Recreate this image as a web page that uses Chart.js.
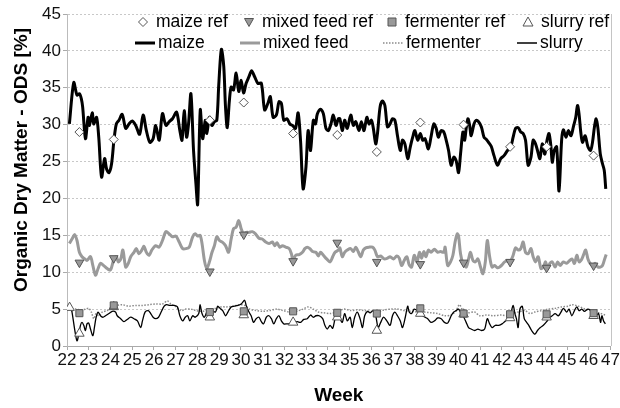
<!DOCTYPE html>
<html>
<head>
  <title>Organic Dry Matter by Week</title>
  <script src="https://cdn.jsdelivr.net/npm/chart.js"></script>
  <style>
    html, body {
      margin: 0;
      padding: 0;
      background: #fff;
    }
    #wrap {
      position: relative;
      width: 620px;
      height: 408px;
    }
  </style>
</head>
<body>
  <div id="wrap">
    <canvas id="odsChart" width="620" height="408"></canvas>
  </div>

  <script>
    // week ticks
    const weekMin = 22;
    const weekMax = 47;

    // maize (measured)
    const maizeWeeks = [22.11, 22.31, 22.46, 22.57, 22.66, 22.72, 22.85, 22.97, 23.03, 23.16, 23.23, 23.36, 23.46, 23.59, 23.73, 23.82, 23.93, 24.05, 24.16, 24.27,
      24.39, 24.54, 24.70, 24.85, 25.00, 25.16, 25.34, 25.50, 25.65, 25.81, 25.96, 26.08, 26.24, 26.39, 26.55, 26.70, 26.85, 27.04, 27.19, 27.29,
      27.39, 27.50, 27.59, 27.70, 27.82, 27.93, 28.01, 28.13, 28.24, 28.36, 28.43, 28.55, 28.66, 28.78, 28.89, 28.98, 29.10, 29.21, 29.29, 29.37,
      29.47, 29.55, 29.66, 29.78, 29.90, 30.01, 30.12, 30.24, 30.37, 30.49, 30.63, 30.78, 30.94, 31.09, 31.24, 31.35, 31.48, 31.63, 31.75, 31.86,
      31.97, 32.12, 32.25, 32.37, 32.51, 32.63, 32.74, 32.86, 32.99, 33.09, 33.20, 33.33, 33.43, 33.51, 33.66, 33.79, 33.91, 34.02, 34.14, 34.25,
      34.37, 34.48, 34.55, 34.66, 34.77, 34.89, 35.05, 35.17, 35.28, 35.43, 35.54, 35.66, 35.79, 35.89, 36.00, 36.09, 36.20, 36.28, 36.40, 36.51,
      36.62, 36.74, 36.86, 36.97, 37.08, 37.20, 37.33, 37.43, 37.54, 37.67, 37.79, 37.90, 38.00, 38.13, 38.25, 38.36, 38.47, 38.62, 38.74, 38.87,
      38.98, 39.08, 39.21, 39.33, 39.44, 39.55, 39.67, 39.79, 39.90, 40.01, 40.10, 40.21, 40.29, 40.36, 40.44, 40.52, 40.59, 40.72, 40.82, 40.93,
      41.06, 41.18, 41.29, 41.39, 41.52, 41.64, 41.80, 41.95, 42.10, 42.26, 42.41, 42.52, 42.63, 42.75, 42.87, 42.98, 43.09, 43.21, 43.34, 43.44,
      43.55, 43.64, 43.75, 43.86, 43.98, 44.08, 44.17, 44.26, 44.32, 44.41, 44.52, 44.63, 44.75, 44.83, 44.95, 45.06, 45.18, 45.29, 45.40, 45.48,
      45.55, 45.63, 45.71, 45.83, 45.96, 46.08, 46.17, 46.26, 46.34, 46.42, 46.53, 46.63, 46.71, 46.78];
    const maize = [30.1, 35.7, 34.0, 34.2, 33.5, 32.4, 28.1, 31.0, 29.9, 31.6, 30.1, 31.0, 28.3, 22.9, 25.4, 24.0, 23.5, 24.7, 27.9, 30.1,
      30.6, 31.4, 29.5, 30.1, 30.5, 29.9, 28.7, 31.3, 29.2, 27.6, 28.1, 29.9, 27.9, 31.5, 29.9, 30.4, 30.8, 31.7, 29.2, 27.9,
      31.9, 28.3, 30.1, 34.2, 26.5, 22.0, 19.2, 32.0, 28.1, 30.6, 28.8, 31.0, 29.9, 30.4, 30.6, 35.4, 40.2, 37.9, 32.4, 29.6,
      33.3, 35.1, 34.7, 37.0, 34.5, 36.0, 34.3, 35.6, 36.5, 37.3, 36.5, 35.6, 35.6, 32.0, 32.9, 33.8, 31.0, 31.3, 33.1, 32.9,
      30.6, 30.8, 30.1, 29.9, 29.5, 31.6, 27.9, 21.3, 24.2, 29.2, 26.5, 30.6, 30.1, 31.4, 32.1, 31.5, 29.5, 29.2, 30.1, 31.3,
      29.9, 30.8, 30.8, 29.2, 30.6, 29.5, 31.3, 29.9, 30.4, 29.2, 30.4, 29.2, 31.0, 30.1, 30.6, 29.5, 27.4, 28.8, 32.4, 33.2,
      32.6, 29.7, 30.1, 30.8, 30.6, 28.5, 26.5, 27.9, 27.4, 25.4, 27.0, 28.3, 29.2, 27.9, 28.8, 27.9, 28.1, 26.7, 28.3, 30.1,
      29.5, 28.3, 29.2, 29.0, 27.9, 26.5, 24.5, 25.6, 25.1, 23.5, 26.0, 29.0, 27.9, 29.5, 30.8, 29.9, 28.5, 30.1, 30.6, 30.4,
      29.7, 28.3, 28.0, 27.6, 27.0, 25.8, 24.5, 25.4, 25.8, 26.5, 27.0, 28.3, 29.5, 29.6, 29.0, 28.8, 27.9, 24.5, 25.6, 27.9,
      27.4, 26.5, 25.4, 27.4, 26.0, 27.9, 28.8, 27.0, 24.9, 26.5, 27.0, 21.0, 27.9, 29.3, 28.3, 29.2, 28.5, 29.7, 31.0, 32.6,
      31.5, 29.0, 27.6, 28.5, 27.0, 26.5, 27.6, 29.7, 30.8, 29.5, 26.0, 24.7, 23.8, 21.3];

    // mixed feed (measured)
    const mixedWeeks = [22.11, 22.23, 22.35, 22.46, 22.57, 22.69, 22.82, 22.92, 23.08, 23.19, 23.31, 23.43, 23.54, 23.69, 23.85, 24.00, 24.16, 24.27, 24.36, 24.47,
      24.57, 24.70, 24.82, 24.93, 25.08, 25.19, 25.31, 25.44, 25.54, 25.65, 25.78, 25.90, 26.08, 26.24, 26.39, 26.55, 26.70, 26.85, 27.01, 27.16,
      27.32, 27.47, 27.62, 27.78, 27.90, 28.01, 28.12, 28.21, 28.32, 28.43, 28.55, 28.67, 28.78, 28.89, 29.01, 29.13, 29.29, 29.43, 29.55, 29.66,
      29.78, 29.90, 30.01, 30.12, 30.24, 30.37, 30.52, 30.67, 30.83, 30.98, 31.14, 31.29, 31.45, 31.55, 31.66, 31.78, 31.91, 32.06, 32.22, 32.32,
      32.40, 32.52, 32.68, 32.83, 32.94, 33.05, 33.17, 33.29, 33.45, 33.56, 33.66, 33.79, 33.94, 34.10, 34.22, 34.33, 34.48, 34.55, 34.66, 34.77,
      34.89, 35.05, 35.17, 35.28, 35.39, 35.51, 35.63, 35.74, 35.89, 36.05, 36.16, 36.28, 36.43, 36.59, 36.74, 36.86, 37.02, 37.17, 37.28, 37.39,
      37.51, 37.63, 37.74, 37.85, 37.97, 38.10, 38.21, 38.31, 38.41, 38.51, 38.62, 38.74, 38.90, 39.05, 39.18, 39.33, 39.39, 39.51, 39.64, 39.75,
      39.85, 39.95, 40.01, 40.10, 40.21, 40.36, 40.47, 40.56, 40.67, 40.78, 40.90, 41.02, 41.13, 41.24, 41.33, 41.44, 41.55, 41.67, 41.80, 41.90,
      42.01, 42.13, 42.29, 42.41, 42.52, 42.63, 42.75, 42.87, 42.98, 43.09, 43.21, 43.34, 43.44, 43.55, 43.67, 43.80, 43.91, 44.01, 44.11, 44.21,
      44.32, 44.45, 44.57, 44.68, 44.83, 44.98, 45.09, 45.22, 45.34, 45.45, 45.55, 45.68, 45.80, 45.86, 45.96, 46.06, 46.17, 46.29, 46.42, 46.53,
      46.63, 46.73, 46.80];
    const mixedFeed = [13.9, 14.5, 15.1, 14.3, 12.7, 12.1, 11.8, 11.6, 12.1, 10.9, 9.6, 10.5, 11.2, 10.9, 10.5, 10.3, 11.8, 12.1, 11.4, 11.8,
      13.0, 10.7, 11.2, 12.1, 12.7, 13.2, 12.5, 13.0, 13.5, 12.7, 12.3, 13.0, 13.6, 13.4, 14.3, 15.5, 15.2, 14.8, 14.9, 14.1,
      13.2, 13.2, 13.4, 14.8, 15.2, 14.9, 15.0, 13.9, 11.6, 10.5, 11.4, 12.7, 13.6, 14.8, 14.3, 14.1, 13.6, 12.7, 14.5, 15.9,
      16.1, 17.0, 15.9, 15.2, 15.4, 15.4, 15.5, 15.2, 14.6, 14.5, 14.1, 13.9, 14.1, 13.6, 14.0, 13.4, 13.6, 13.4, 13.2, 12.5,
      11.6, 12.3, 12.4, 12.7, 13.2, 13.4, 13.2, 12.8, 12.7, 12.2, 12.7, 12.3, 11.8, 11.4, 12.1, 12.7, 13.0, 13.3, 12.1, 12.7,
      13.0, 13.2, 12.8, 13.4, 12.8, 12.1, 13.0, 13.3, 13.4, 13.4, 13.0, 12.1, 12.2, 11.8, 11.9, 12.1, 11.8, 12.2, 11.9, 10.9,
      11.6, 12.1, 11.0, 10.7, 12.3, 11.4, 12.7, 11.9, 12.8, 12.1, 13.0, 12.7, 13.1, 12.7, 12.8, 12.7, 13.4, 10.9, 11.4, 12.3,
      14.1, 15.2, 14.9, 12.5, 11.2, 10.7, 11.8, 12.7, 11.6, 11.4, 11.8, 10.7, 9.8, 11.4, 14.3, 12.1, 10.7, 10.9, 10.6, 10.7,
      11.0, 11.4, 11.6, 11.6, 12.3, 13.3, 13.0, 13.2, 14.1, 12.7, 12.5, 13.2, 12.1, 11.4, 12.1, 10.5, 10.7, 11.4, 10.5, 11.2,
      11.4, 10.7, 11.4, 10.9, 11.4, 11.2, 11.5, 11.8, 11.2, 12.3, 11.4, 11.8, 12.7, 13.0, 11.8, 11.2, 10.9, 11.2, 10.7, 10.7,
      10.9, 11.8, 12.4];

    // fermenter (measured)
    const fermenterWeeks = [22.11, 22.23, 22.39, 22.62, 22.85, 23.00, 23.12, 23.23, 23.34, 23.46, 23.62, 23.85, 24.08, 24.31, 24.54, 24.85, 25.16, 25.47, 25.78, 26.08,
      26.39, 26.62, 26.78, 27.01, 27.24, 27.47, 27.70, 27.93, 28.24, 28.55, 28.86, 29.09, 29.32, 29.63, 29.94, 30.17, 30.40, 30.71, 31.01, 31.32,
      31.63, 31.94, 32.25, 32.55, 32.86, 33.09, 33.33, 33.56, 33.79, 34.10, 34.40, 34.74, 35.05, 35.35, 35.66, 35.97, 36.28, 36.59, 36.90, 37.20,
      37.51, 37.82, 38.13, 38.44, 38.74, 39.05, 39.36, 39.67, 39.90, 40.05, 40.21, 40.44, 40.75, 40.98, 41.29, 41.60, 41.98, 42.29, 42.52, 42.75,
      43.06, 43.29, 43.52, 43.83, 44.14, 44.45, 44.75, 45.06, 45.22, 45.52, 45.83, 46.14, 46.45, 46.76];
    const fermenter = [5.5, 4.8, 5.0, 4.9, 5.0, 5.1, 4.6, 3.7, 4.4, 4.1, 4.6, 4.8, 5.3, 5.5, 5.6, 5.4, 5.5, 5.5, 5.6, 5.7,
      5.7, 6.1, 5.7, 5.3, 4.8, 5.0, 5.0, 4.8, 4.7, 5.0, 5.1, 5.3, 5.3, 5.4, 5.6, 5.5, 5.0, 4.8, 4.7, 4.8,
      5.0, 4.8, 4.6, 4.7, 5.0, 5.3, 5.0, 4.6, 4.5, 4.4, 4.6, 5.0, 4.8, 4.9, 4.8, 4.7, 4.6, 4.9, 5.0, 5.0,
      4.8, 4.7, 4.6, 4.6, 4.5, 4.4, 4.1, 4.2, 4.8, 5.6, 4.8, 4.5, 4.6, 4.1, 4.2, 4.1, 4.2, 4.1, 4.4, 4.6,
      4.8, 4.4, 4.6, 4.8, 5.0, 5.1, 5.3, 5.4, 5.6, 5.4, 5.0, 4.8, 4.5, 4.2];

    // slurry (measured)
    const slurryWeeks = [22.15, 22.23, 22.35, 22.46, 22.54, 22.62, 22.69, 22.77, 22.85, 22.92, 23.00, 23.08, 23.19, 23.26, 23.34, 23.43, 23.54, 23.65, 23.77, 23.93,
      24.08, 24.23, 24.31, 24.47, 24.62, 24.77, 24.93, 25.08, 25.24, 25.39, 25.47, 25.59, 25.74, 25.85, 25.96, 26.08, 26.21, 26.33, 26.47, 26.58,
      26.73, 26.93, 27.08, 27.19, 27.32, 27.44, 27.55, 27.65, 27.78, 27.90, 28.06, 28.12, 28.21, 28.32, 28.43, 28.55, 28.67, 28.83, 28.93, 29.04,
      29.16, 29.29, 29.40, 29.55, 29.70, 29.86, 30.01, 30.17, 30.24, 30.37, 30.47, 30.58, 30.70, 30.83, 30.94, 31.04, 31.17, 31.29, 31.40, 31.51,
      31.63, 31.75, 31.86, 31.97, 32.12, 32.28, 32.43, 32.59, 32.74, 32.89, 33.05, 33.20, 33.33, 33.45, 33.60, 33.76, 33.86, 33.97, 34.10, 34.22,
      34.33, 34.43, 34.55, 34.66, 34.77, 34.89, 35.02, 35.12, 35.23, 35.35, 35.48, 35.59, 35.69, 35.82, 35.94, 36.09, 36.20, 36.31, 36.43, 36.56,
      36.71, 36.86, 36.97, 37.08, 37.20, 37.33, 37.43, 37.56, 37.67, 37.74, 37.85, 37.97, 38.10, 38.21, 38.36, 38.47, 38.59, 38.74, 38.90, 39.05,
      39.21, 39.36, 39.51, 39.67, 39.79, 39.90, 40.01, 40.13, 40.25, 40.36, 40.47, 40.59, 40.75, 40.90, 41.06, 41.21, 41.33, 41.44, 41.55, 41.70,
      41.86, 42.01, 42.13, 42.29, 42.41, 42.52, 42.60, 42.67, 42.75, 42.83, 42.94, 43.03, 43.14, 43.24, 43.37, 43.52, 43.64, 43.77, 43.91, 44.06,
      44.21, 44.32, 44.45, 44.60, 44.72, 44.83, 44.98, 45.09, 45.22, 45.34, 45.45, 45.55, 45.68, 45.80, 45.96, 46.11, 46.22, 46.33, 46.45, 46.54,
      46.60, 46.68, 46.76];
    const slurry = [5.5, 4.6, 2.3, 0.7, 1.6, 2.8, 3.2, 2.8, 2.1, 3.0, 3.1, 2.3, 1.4, 2.5, 3.9, 4.6, 4.1, 3.9, 4.1, 4.4,
      4.7, 4.6, 4.1, 3.7, 3.3, 3.6, 3.9, 3.7, 3.4, 2.5, 3.4, 4.6, 4.8, 4.4, 3.9, 3.7, 3.9, 4.6, 5.4, 5.6,
      5.5, 5.5, 5.3, 4.1, 3.4, 3.9, 4.1, 3.4, 4.1, 3.9, 4.4, 5.6, 4.4, 3.9, 4.6, 5.0, 4.8, 4.6, 5.4, 5.1,
      4.8, 4.1, 4.6, 5.3, 5.4, 5.5, 5.7, 6.2, 5.5, 4.6, 4.1, 3.2, 3.7, 3.9, 3.3, 3.0, 3.9, 4.1, 3.7, 3.0,
      3.7, 4.1, 3.4, 3.0, 3.0, 3.0, 3.1, 3.3, 3.2, 3.6, 3.7, 4.2, 3.9, 4.1, 4.1, 3.7, 2.8, 2.3, 2.8, 2.4,
      3.7, 4.1, 3.7, 3.2, 4.4, 3.4, 3.9, 2.5, 3.9, 4.6, 3.7, 2.5, 4.1, 4.7, 4.5, 4.8, 4.1, 2.5, 3.2, 3.9,
      3.4, 2.8, 4.1, 4.6, 4.1, 3.4, 2.5, 3.9, 5.4, 4.6, 4.4, 5.0, 4.8, 4.4, 4.1, 3.9, 3.7, 3.2, 3.4, 3.8,
      3.7, 3.2, 3.1, 4.1, 4.6, 4.8, 5.0, 4.4, 3.9, 3.2, 2.5, 2.3, 2.1, 2.3, 2.1, 2.3, 3.7, 3.0, 2.5, 2.8,
      2.8, 3.0, 3.3, 3.7, 4.4, 5.5, 4.4, 3.7, 2.5, 5.0, 5.4, 3.7, 3.2, 2.8, 2.1, 1.6, 2.1, 2.5, 2.8, 3.3,
      3.9, 4.1, 4.4, 4.1, 4.6, 5.1, 4.6, 5.0, 4.1, 4.8, 5.3, 4.8, 5.0, 4.7, 5.0, 4.8, 4.6, 4.1, 4.4, 3.2,
      4.1, 3.4, 3.0];

    // reference samples
    const refWeeks = [22.57, 24.15, 28.57, 30.13, 32.40, 34.43, 36.25, 38.25, 40.24, 42.38, 44.06, 46.22];
    const maizeRef = [29.0, 28.0, 30.6, 33.0, 28.8, 28.6, 26.3, 30.3, 30.0, 27.0, 27.0, 25.8];
    const mixedFeedRef = [11.3, 11.9, 10.1, 15.1, 11.5, 14.0, 11.4, 11.1, 11.3, 11.4, 10.6, 10.9];
    const fermenterRef = [4.45, 5.5, 4.6, 4.7, 4.7, 4.5, 4.4, 5.1, 4.4, 4.3, 4.3, 4.45];
    const slurryRefWeeks = [22.12, 22.57, 24.15, 28.57, 30.13, 32.40, 34.43, 36.25, 38.25, 40.24, 42.38, 44.06, 46.22];
    const slurryRef = [5.2, 1.7, 5.3, 3.9, 4.2, 3.2, 3.9, 2.1, 4.4, 4.3, 3.8, 3.9, 4.1];

    const FONT = '"Liberation Sans", Arial, sans-serif';

    function pts(xs, ys) {
      return xs.map((x, i) => ({ x: x, y: ys[i] }));
    }

    // legend is drawn by hand so the two rows line up like the original
    const legendItems = [
      { text: 'maize ref', kind: 'diamond', x: 143, y: 22 },
      { text: 'mixed feed ref', kind: 'triDown', x: 249, y: 22 },
      { text: 'fermenter ref', kind: 'square', x: 392, y: 22 },
      { text: 'slurry ref', kind: 'triUp', x: 528, y: 22 },
      { text: 'maize', kind: 'line', x: 145, y: 43, color: '#000', width: 3, dash: [] },
      { text: 'mixed feed', kind: 'line', x: 250, y: 43, color: '#9a9a9a', width: 3, dash: [] },
      { text: 'fermenter', kind: 'line', x: 393, y: 43, color: '#8a8a8a', width: 1.5, dash: [1.5, 1.5] },
      { text: 'slurry', kind: 'line', x: 527, y: 43, color: '#000', width: 1.5, dash: [] }
    ];

    function marker(ctx, kind, x, y) {
      ctx.save();
      ctx.lineWidth = 1;
      ctx.strokeStyle = '#555';
      ctx.beginPath();
      if (kind === 'diamond') {
        ctx.fillStyle = '#fff';
        ctx.moveTo(x, y - 4.5); ctx.lineTo(x + 4.5, y); ctx.lineTo(x, y + 4.5); ctx.lineTo(x - 4.5, y);
      } else if (kind === 'triDown') {
        ctx.fillStyle = '#999';
        ctx.moveTo(x - 4.5, y - 3.5); ctx.lineTo(x + 4.5, y - 3.5); ctx.lineTo(x, y + 4.5);
      } else if (kind === 'triUp') {
        ctx.fillStyle = '#fff';
        ctx.moveTo(x - 5, y + 4); ctx.lineTo(x + 5, y + 4); ctx.lineTo(x, y - 5);
      } else if (kind === 'square') {
        ctx.fillStyle = '#999';
        ctx.rect(x - 4, y - 4, 8, 8);
      }
      ctx.closePath();
      ctx.fill();
      ctx.stroke();
      ctx.restore();
    }

    const customLegend = {
      id: 'customLegend',
      afterDraw(chart) {
        const ctx = chart.ctx;
        ctx.save();
        ctx.font = '17.5px ' + FONT;
        ctx.fillStyle = '#000';
        ctx.textBaseline = 'middle';
        legendItems.forEach(item => {
          if (item.kind === 'line') {
            ctx.save();
            ctx.strokeStyle = item.color;
            ctx.lineWidth = item.width;
            ctx.setLineDash(item.dash);
            ctx.beginPath();
            ctx.moveTo(item.x - 10, item.y);
            ctx.lineTo(item.x + 10, item.y);
            ctx.stroke();
            ctx.restore();
          } else {
            marker(ctx, item.kind, item.x, item.y);
          }
          ctx.fillText(item.text, item.x + 13, item.y);
        });

        // y axis title, right border of the plot
        const area = chart.chartArea;
        ctx.save();
        ctx.translate(22, 160);
        ctx.rotate(-Math.PI / 2);
        ctx.textAlign = 'center';
        ctx.font = 'bold 19px ' + FONT;
        ctx.fillText('Organic Dry Matter - ODS [%]', 0, 0);
        ctx.restore();

        ctx.strokeStyle = '#c4c4c4';
        ctx.lineWidth = 1;
        ctx.beginPath();
        ctx.moveTo(Math.round(area.right) + 0.5, area.top);
        ctx.lineTo(Math.round(area.right) + 0.5, area.bottom);
        ctx.stroke();
        ctx.restore();
      }
    };

    const ctx = document.getElementById('odsChart').getContext('2d');
    const chart = new Chart(ctx, {
      type: 'line',
      data: {
        datasets: [
          {
            label: 'maize ref',
            data: pts(refWeeks, maizeRef),
            showLine: false,
            pointStyle: 'rectRot',
            pointRadius: 4.5,
            pointBackgroundColor: '#fff',
            pointBorderColor: '#555',
            pointBorderWidth: 1,
            order: 0
          },
          {
            label: 'mixed feed ref',
            data: pts(refWeeks, mixedFeedRef),
            showLine: false,
            pointStyle: 'triangle',
            rotation: 180,
            pointRadius: 5,
            pointBackgroundColor: '#999',
            pointBorderColor: '#555',
            pointBorderWidth: 1,
            order: 1
          },
          {
            label: 'fermenter ref',
            data: pts(refWeeks, fermenterRef),
            showLine: false,
            pointStyle: 'rect',
            pointRadius: 5,
            pointBackgroundColor: '#999',
            pointBorderColor: '#555',
            pointBorderWidth: 1,
            order: 2
          },
          {
            label: 'slurry ref',
            data: pts(slurryRefWeeks, slurryRef),
            showLine: false,
            pointStyle: 'triangle',
            pointRadius: 5.5,
            pointBackgroundColor: '#fff',
            pointBorderColor: '#555',
            pointBorderWidth: 1,
            order: 3
          },
          {
            label: 'maize',
            data: pts(maizeWeeks, maize),
            borderColor: '#000',
            borderWidth: 3,
            pointRadius: 0,
            tension: 0.3,
            order: 6
          },
          {
            label: 'mixed feed',
            data: pts(mixedWeeks, mixedFeed),
            borderColor: '#9a9a9a',
            borderWidth: 3,
            pointRadius: 0,
            tension: 0.3,
            order: 7
          },
          {
            label: 'fermenter',
            data: pts(fermenterWeeks, fermenter),
            borderColor: '#8a8a8a',
            borderWidth: 1.5,
            borderDash: [1.5, 1.5],
            pointRadius: 0,
            tension: 0.3,
            order: 5
          },
          {
            label: 'slurry',
            data: pts(slurryWeeks, slurry),
            borderColor: '#000',
            borderWidth: 1.3,
            pointRadius: 0,
            tension: 0.3,
            order: 4
          }
        ]
      },
      options: {
        responsive: false,
        animation: false,
        layout: {
          padding: { left: 0, right: 8, top: 14, bottom: 0 }
        },
        plugins: {
          legend: { display: false },
          tooltip: { enabled: false }
        },
        scales: {
          x: {
            type: 'linear',
            min: weekMin,
            max: weekMax,
            afterFit: function(scale) { scale.height = 62; },
            ticks: {
              stepSize: 1,
              autoSkip: false,
              maxRotation: 0,
              padding: 0,
              color: '#111',
              font: { size: 17, family: FONT },
              callback: v => String(v)
            },
            grid: {
              drawOnChartArea: false,
              tickLength: 4,
              tickColor: '#aaa'
            },
            border: { color: '#aaa' },
            title: {
              display: true,
              text: 'Week',
              color: '#000',
              font: { size: 19, weight: 'bold', family: FONT },
              padding: { top: 0, bottom: 1 }
            }
          },
          y: {
            min: 0,
            max: 45,
            afterFit: function(scale) { scale.width = 67; },
            ticks: {
              stepSize: 5,
              padding: 2,
              color: '#111',
              font: { size: 17, family: FONT }
            },
            grid: {
              color: '#c8c8c8',
              tickLength: 4,
              tickColor: '#aaa'
            },
            border: { color: '#bbb', dash: [2, 2] }
          }
        }
      },
      plugins: [customLegend]
    });
  </script>
</body>
</html>
